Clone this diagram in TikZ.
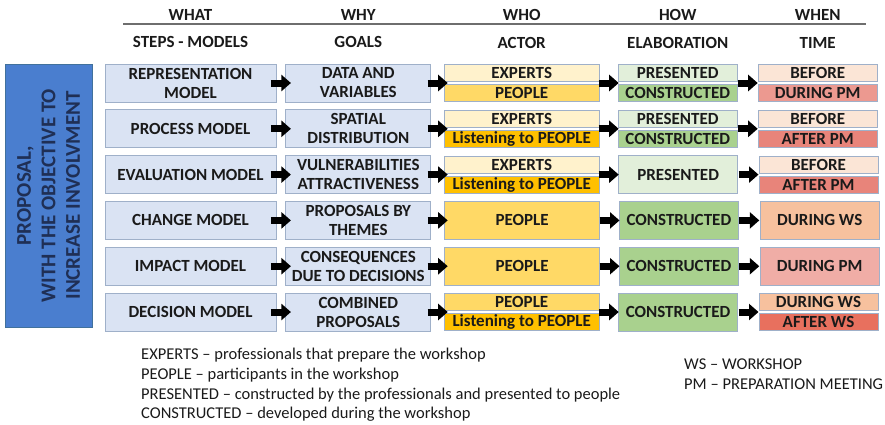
\documentclass[tikz,border=0pt]{standalone}
\usepackage{fontspec}
\setmainfont{Carlito}
\usetikzlibrary{positioning,arrows.meta}

\definecolor{edgec}{HTML}{9FB0C9}
\definecolor{inkc}{HTML}{1A1A1A}
\definecolor{bluec}{HTML}{DAE3F3}
\definecolor{sidec}{HTML}{4A7ECF}
\definecolor{sideedge}{HTML}{41719C}
\definecolor{sideink}{HTML}{1F2F55}
\definecolor{creamc}{HTML}{FFF2CC}
\definecolor{goldc}{HTML}{FFD966}
\definecolor{amberc}{HTML}{FFC000}
\definecolor{palegreenc}{HTML}{E2EFDA}
\definecolor{greenc}{HTML}{A9D18E}
\definecolor{beforec}{HTML}{FBE5D6}
\definecolor{duringpmc}{HTML}{EC9990}
\definecolor{afterpmc}{HTML}{E8847A}
\definecolor{duringwsc}{HTML}{F7C19E}
\definecolor{afterwsc}{HTML}{E8705E}
\definecolor{rulec}{HTML}{6E6E6E}

\begin{document}
\begin{tikzpicture}[
    x=1pt, y=-1pt,
    every node/.style={font=\bfseries\fontsize{17}{19}\selectfont,text=inkc},
    cell/.style={draw=edgec,line width=0.8pt,inner sep=0pt,align=center,minimum height=38pt},
    half/.style={cell,minimum height=17pt},
    slot/.style={inner sep=0pt,outer sep=0pt,minimum height=38pt},
    what/.style={cell,fill=bluec,minimum width=171pt},
    why/.style={cell,fill=bluec,minimum width=145pt},
    who/.style={minimum width=155pt},
    how/.style={minimum width=119pt},
    when/.style={minimum width=119pt},
    head/.style={inner sep=0pt,text height=11.5pt,text depth=0pt},
    legendtext/.style={anchor=north west,align=left,inner sep=0pt,font=\fontsize{16.5}{19.7}\selectfont},
    arr/.style={line width=7pt,-{Triangle[length=9.5pt,width=16pt]}}
]
\useasboundingbox (0,0) rectangle (885,424);

% Side label
\node[cell,fill=sidec,draw=sideedge,rotate=90,minimum width=263pt,minimum height=87pt,
      text=sideink,font=\bfseries\fontsize{21}{24.5}\selectfont] (side) at (48.5,195.5)
      {PROPOSAL,\\WITH THE OBJECTIVE TO\\INCREASE INVOLVMENT};

% Row 1
\node[what] (what1) at (190.5,83) {REPRESENTATION\\MODEL};
\node[why,right=9pt of what1] (why1) {DATA AND\\VARIABLES};
\node[slot,who,right=13pt of why1] (who1) {};
\node[half,who,fill=creamc,below=0pt of who1.north] (who1a) {EXPERTS};
\node[half,who,fill=goldc,above=0pt of who1.south] (who1b) {PEOPLE};
\node[slot,how,right=19pt of who1] (how1) {};
\node[half,how,fill=palegreenc,below=0pt of how1.north] (how1a) {PRESENTED};
\node[half,how,fill=greenc,above=0pt of how1.south] (how1b) {CONSTRUCTED};
\node[slot,when,right=21pt of how1] (when1) {};
\node[half,when,fill=beforec,below=0pt of when1.north] (when1a) {BEFORE};
\node[half,when,fill=duringpmc,above=0pt of when1.south] (when1b) {DURING PM};

% Row 2
\node[what,below=7pt of what1] (what2) {PROCESS MODEL};
\node[why,right=9pt of what2] (why2) {SPATIAL\\DISTRIBUTION};
\node[slot,who,right=13pt of why2] (who2) {};
\node[half,who,fill=creamc,below=0pt of who2.north] (who2a) {EXPERTS};
\node[half,who,fill=amberc,above=0pt of who2.south] (who2b) {Listening to PEOPLE};
\node[slot,how,right=19pt of who2] (how2) {};
\node[half,how,fill=palegreenc,below=0pt of how2.north] (how2a) {PRESENTED};
\node[half,how,fill=greenc,above=0pt of how2.south] (how2b) {CONSTRUCTED};
\node[slot,when,right=21pt of how2] (when2) {};
\node[half,when,fill=beforec,below=0pt of when2.north] (when2a) {BEFORE};
\node[half,when,fill=afterpmc,above=0pt of when2.south] (when2b) {AFTER PM};

% Row 3
\node[what,below=7pt of what2] (what3) {EVALUATION MODEL};
\node[why,right=9pt of what3] (why3) {VULNERABILITIES\\ATTRACTIVENESS};
\node[slot,who,right=13pt of why3] (who3) {};
\node[half,who,fill=creamc,below=0pt of who3.north] (who3a) {EXPERTS};
\node[half,who,fill=amberc,above=0pt of who3.south] (who3b) {Listening to PEOPLE};
\node[cell,how,fill=palegreenc,right=19pt of who3] (how3) {PRESENTED};
\node[slot,when,right=21pt of how3] (when3) {};
\node[half,when,fill=beforec,below=0pt of when3.north] (when3a) {BEFORE};
\node[half,when,fill=afterpmc,above=0pt of when3.south] (when3b) {AFTER PM};

% Row 4
\node[what,below=7pt of what3] (what4) {CHANGE MODEL};
\node[why,right=9pt of what4] (why4) {PROPOSALS BY\\THEMES};
\node[cell,who,fill=goldc,right=13pt of why4] (who4) {PEOPLE};
\node[cell,how,fill=greenc,right=19pt of who4] (how4) {CONSTRUCTED};
\node[cell,when,fill=duringwsc,right=21pt of how4] (when4) {DURING WS};

% Row 5
\node[what,below=7pt of what4] (what5) {IMPACT MODEL};
\node[why,right=9pt of what5] (why5) {CONSEQUENCES\\DUE TO DECISIONS};
\node[cell,who,fill=goldc,right=13pt of why5] (who5) {PEOPLE};
\node[cell,how,fill=greenc,right=19pt of who5] (how5) {CONSTRUCTED};
\node[cell,when,fill=duringpmc!80!white,right=21pt of how5] (when5) {DURING PM};

% Row 6
\node[what,below=7pt of what5] (what6) {DECISION MODEL};
\node[why,right=9pt of what6] (why6) {COMBINED\\PROPOSALS};
\node[slot,who,right=13pt of why6] (who6) {};
\node[half,who,fill=goldc,below=0pt of who6.north] (who6a) {PEOPLE};
\node[half,who,fill=amberc,above=0pt of who6.south] (who6b) {Listening to PEOPLE};
\node[cell,how,fill=greenc,right=19pt of who6] (how6) {CONSTRUCTED};
\node[slot,when,right=21pt of how6] (when6) {};
\node[half,when,fill=duringwsc,below=0pt of when6.north] (when6a) {DURING WS};
\node[half,when,fill=afterwsc,above=0pt of when6.south] (when6b) {AFTER WS};

% Arrows between the columns
\foreach \r in {1,...,6}{
  \draw[arr,shorten <=-5.5pt,shorten >=-5.5pt] (what\r) -- (why\r);
  \draw[arr,shorten <=-3.5pt,shorten >=-3.5pt] (why\r) -- (who\r);
  \draw[arr,shorten <=-0.5pt,shorten >=-0.5pt] (who\r) -- (how\r);
  \draw[arr,shorten <=0.5pt,shorten >=0.5pt] (how\r) -- (when\r);
}

% Column headings
\node[head,above=15.5pt of what1] (steps) {STEPS - MODELS};
\node[head,above=16pt of steps] (what) {WHAT};
\node[head,above=15.5pt of why1] (goals) {GOALS};
\node[head,above=16pt of goals] (why) {WHY};
\node[head,above=15.5pt of who1] (actor) {ACTOR};
\node[head,above=16pt of actor] (who) {WHO};
\node[head,above=15.5pt of how1] (elab) {ELABORATION};
\node[head,above=16pt of elab] (how) {HOW};
\node[head,above=15.5pt of when1] (time) {TIME};
\node[head,above=16pt of time] (when) {WHEN};
\draw[rulec,line width=1.5pt] (123,24) -- (866,24);

% Legend
\node[legendtext] (legend) at (141,348)
  {EXPERTS -- professionals that prepare the workshop\\
   PEOPLE -- participants in the workshop\\
   PRESENTED -- constructed by the professionals and presented to people\\
   CONSTRUCTED -- developed during the workshop};
\node[legendtext] (abbr) at (684,359)
  {WS -- WORKSHOP\\PM -- PREPARATION MEETING};

\end{tikzpicture}
\end{document}
